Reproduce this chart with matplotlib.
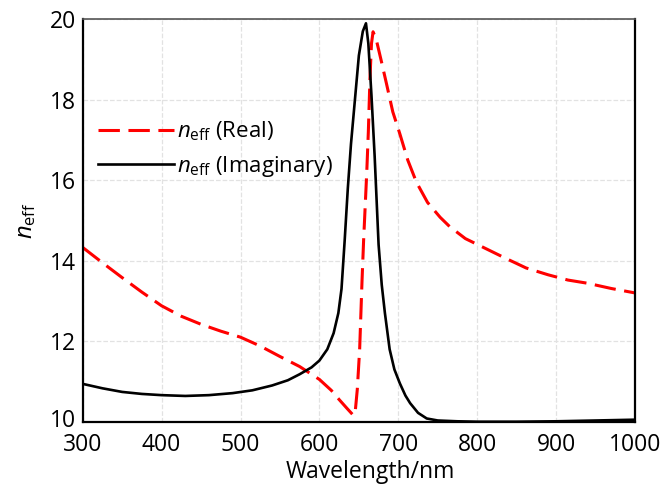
import matplotlib
matplotlib.use("Agg")
import matplotlib.pyplot as plt
from matplotlib.transforms import ScaledTranslation

# effective index vs wavelength
wl_real = [300, 325, 350, 375, 400, 425, 450, 475, 500, 525, 550, 575, 600, 615,
           625, 635, 642, 645, 648, 651, 654, 656, 660, 662, 664, 666, 668, 672,
           678, 685, 693, 702, 712, 723, 737, 753, 765, 785, 810, 835, 862, 890,
           915, 940, 970, 1000]
n_real = [14.33, 13.95, 13.58, 13.22, 12.88, 12.62, 12.42, 12.25, 12.10, 11.88,
          11.62, 11.37, 11.05, 10.78, 10.55, 10.33, 10.18, 10.17, 10.80, 11.80,
          13.50, 14.50, 16.20, 17.20, 18.50, 19.40, 19.69, 19.50, 19.00, 18.40,
          17.70, 17.15, 16.50, 15.95, 15.45, 15.08, 14.85, 14.55, 14.31, 14.07,
          13.82, 13.65, 13.52, 13.44, 13.31, 13.20]

wl_imag = [300, 325, 350, 375, 400, 430, 460, 490, 515, 540, 560, 575, 590, 600,
           610, 618, 624, 628, 632, 636, 640, 645, 650, 655, 659, 662, 666, 670,
           675, 679, 683, 689, 695, 702, 709, 715, 725, 736, 750, 775, 800, 850,
           900, 950, 1000]
n_imag = [10.94, 10.83, 10.74, 10.69, 10.66, 10.64, 10.66, 10.71, 10.78, 10.90,
          11.03, 11.18, 11.35, 11.52, 11.80, 12.20, 12.70, 13.30, 14.50, 15.80,
          16.90, 18.00, 19.10, 19.70, 19.90, 19.40, 18.10, 16.60, 14.40, 13.40,
          12.70, 11.80, 11.30, 10.95, 10.65, 10.46, 10.22, 10.08, 10.03, 10.01,
          10.00, 10.00, 10.01, 10.03, 10.05]

x_ticks = [300, 400, 500, 600, 700, 800, 900, 1000]
y_ticks = [10, 12, 14, 16, 18, 20]

plt.rcParams['font.family'] = ['Open Sans', 'DejaVu Sans']
plt.rcParams['mathtext.fontset'] = 'custom'
plt.rcParams['mathtext.rm'] = 'Open Sans'
plt.rcParams['mathtext.it'] = 'Open Sans:italic'

fig = plt.figure(figsize=(6.65, 4.86), dpi=100)
ax = fig.add_axes([0.1244, 0.1323, 0.8305, 0.828])

ax.plot(wl_real, n_real, color='#ff0000', lw=2.2, dashes=(7, 2.8),
        label=r'$n_{\mathrm{eff}}$ (Real)')
ax.plot(wl_imag, n_imag, color='black', lw=1.9,
        label=r'$n_{\mathrm{eff}}$ (Imaginary)')

ax.set_xlim(300, 1000)
ax.set_ylim(10, 20)
ax.set_xticks(x_ticks)
ax.set_yticks(y_ticks)
ax.tick_params(length=0, labelsize=16.5)
ax.tick_params(axis='x', pad=8)
ax.tick_params(axis='y', pad=5)
ax.grid(True, color='#e2e2e2', ls='--', lw=0.9)
ax.set_axisbelow(True)

# nudge the bottom y label up a little so it clears the "300"
lab10 = ax.get_yticklabels()[0]
lab10.set_transform(lab10.get_transform() + ScaledTranslation(0, 3 / 72, fig.dpi_scale_trans))

for side in ['left', 'bottom', 'right']:
    ax.spines[side].set_color('black')
    ax.spines[side].set_linewidth(1.6)
ax.spines['top'].set_color('#555555')
ax.spines['top'].set_linewidth(1.2)

ax.set_xlabel('Wavelength/nm', fontsize=16.5)
ax.xaxis.set_label_coords(0.52, -0.095)
ax.set_ylabel(r'$n_{\mathrm{eff}}$', fontsize=17, labelpad=8)

ax.legend(loc='upper left', bbox_to_anchor=(0.0, 0.79), frameon=False,
          fontsize=16, handlelength=3.4, handletextpad=0.15, labelspacing=0.5,
          borderaxespad=0.3)

fig.savefig('out.png', dpi=100)
